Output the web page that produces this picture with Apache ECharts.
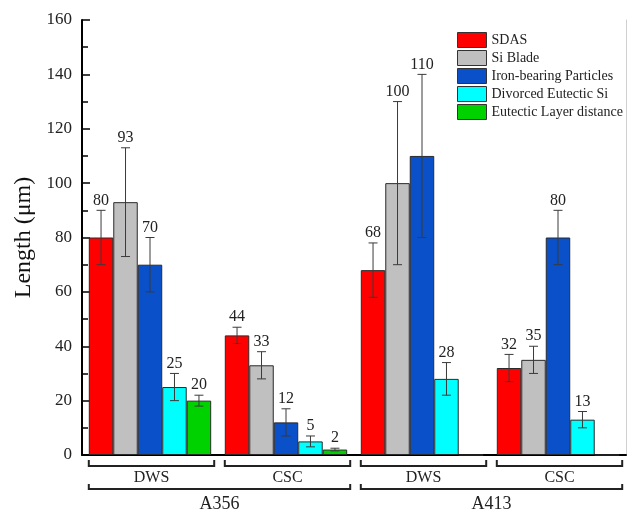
<!DOCTYPE html>
<html>
<head>
<meta charset="utf-8">
<script src="https://cdn.jsdelivr.net/npm/echarts@6/dist/echarts.min.js"></script>
<style>
  html, body { margin: 0; padding: 0; background: #fff; }
  #chart { width: 627px; height: 511px; }
</style>
</head>
<body>
<div id="chart"></div>
<script>
// Casting processes under each alloy, and the alloys that group them
const processes = ['DWS', 'CSC', 'DWS', 'CSC'];
const alloys = ['A356', 'A413'];
const alloyOfCategory = [0, 0, 1, 1];

const seriesNames = ['SDAS', 'Si Blade', 'Iron-bearing Particles', 'Divorced Eutectic Si', 'Eutectic Layer distance'];

// Mean lengths (μm) per category
const sdas      = [80, 44, 68, 32];
const siBlade   = [93, 33, 100, 35];
const ironPart  = [70, 12, 110, 80];
const divorced  = [25, 5, 28, 13];
const eutLayer  = [20, 2, 0, 0];

// Standard deviations (μm)
const sdasErr     = [10, 3, 10, 5];
const siBladeErr  = [20, 5, 30, 5];
const ironPartErr = [10, 5, 30, 10];
const divorcedErr = [5, 2, 6, 3];
const eutLayerErr = [2, 0.5, 0, 0];

const yTicks = [0, 20, 40, 60, 80, 100, 120, 140, 160];

const colors = ['#ff0000', '#c0c0c0', '#0a50c8', '#00ffff', '#00d200'];
const FONT = "'Liberation Serif', 'Times New Roman', serif";

const means = [sdas, siBlade, ironPart, divorced, eutLayer];
const errs = [sdasErr, siBladeErr, ironPartErr, divorcedErr, eutLayerErr];
const nSeries = means.length;
const gapRatio = 0.10;

const catKeys = processes.map((p, i) => alloys[alloyOfCategory[i]] + ' ' + p);

const barSeries = means.map((vals, s) => ({
  name: seriesNames[s],
  type: 'bar',
  data: vals,
  barGap: '0%',
  barCategoryGap: (gapRatio * 100) + '%',
  itemStyle: { color: colors[s], borderColor: '#2a2a2a', borderWidth: 1 },
  z: 2
}));

// Error bars with the mean printed above each one
const errorSeries = means.map((vals, s) => ({
  type: 'custom',
  name: seriesNames[s] + ' error',
  data: vals.map((v, i) => [i, v, errs[s][i]]),
  encode: { x: 0, y: 1 },
  z: 5,
  silent: true,
  renderItem: function (params, api) {
    const i = api.value(0), v = api.value(1), e = api.value(2);
    if (!v) return null;
    const band = api.size([1, 0])[0];
    const bw = band * (1 - gapRatio) / nSeries;
    const cx = api.coord([i, v])[0] + (s - (nSeries - 1) / 2) * bw;
    const yTop = api.coord([i, v + e])[1];
    const yBot = api.coord([i, v - e])[1];
    const cap = 4.5;
    const stroke = { stroke: '#3a3a3a', lineWidth: 1 };
    return {
      type: 'group',
      children: [
        { type: 'line', shape: { x1: cx, y1: yTop, x2: cx, y2: yBot }, style: stroke },
        { type: 'line', shape: { x1: cx - cap, y1: yTop, x2: cx + cap, y2: yTop }, style: stroke },
        { type: 'line', shape: { x1: cx - cap, y1: yBot, x2: cx + cap, y2: yBot }, style: stroke },
        {
          type: 'text',
          style: {
            x: cx, y: yTop - 2, text: String(v),
            align: 'center', verticalAlign: 'bottom',
            font: '16px ' + FONT, fill: '#222'
          }
        }
      ]
    };
  }
}));

const chart = echarts.init(document.getElementById('chart'));

chart.setOption({
  animation: false,
  backgroundColor: '#fff',
  grid: { left: 82, right: 1, top: 20, bottom: 56 },
  legend: {
    orient: 'vertical',
    left: 457, top: 32,
    icon: 'rect',
    itemWidth: 29, itemHeight: 15, itemGap: 2,
    data: seriesNames,
    itemStyle: { borderColor: '#333', borderWidth: 1 },
    textStyle: { fontFamily: FONT, fontSize: 14, lineHeight: 15, color: '#222' },
    padding: 0
  },
  xAxis: [
    {
      type: 'category', data: catKeys, position: 'bottom',
      axisLine: { lineStyle: { color: '#777', width: 1 } },
      axisTick: { show: false }, axisLabel: { show: false }
    },
    {
      type: 'category', data: catKeys, position: 'top',
      axisLine: { lineStyle: { color: '#000', width: 2 } },
      axisTick: { show: false }, axisLabel: { show: false }
    }
  ],
  yAxis: [
    {
      type: 'value', min: yTicks[0], max: yTicks[yTicks.length - 1], interval: 20,
      name: 'Length (μm)', nameLocation: 'middle', nameGap: 45, nameRotate: 90,
      nameTextStyle: { fontFamily: FONT, fontSize: 24, color: '#111' },
      axisLine: { show: true, lineStyle: { color: '#000', width: 2 } },
      axisTick: { show: true, inside: true, length: 8, lineStyle: { color: '#000', width: 1.5 } },
      minorTick: { show: true, splitNumber: 2, length: 6, lineStyle: { color: '#000', width: 1.5 } },
      splitLine: { show: false },
      axisLabel: { fontFamily: FONT, fontSize: 17, color: '#222', margin: 10 }
    },
    {
      type: 'value', min: yTicks[0], max: yTicks[yTicks.length - 1], position: 'right',
      axisLine: { show: true, lineStyle: { color: '#cfcfcf', width: 1 } },
      axisTick: { show: false }, axisLabel: { show: false }, splitLine: { show: false }
    }
  ],
  series: barSeries.concat(errorSeries)
});

// Grouping brackets under the axis: process level, then alloy level
function drawBrackets() {
  const c0 = chart.convertToPixel({ xAxisIndex: 0 }, 0);
  const c1 = chart.convertToPixel({ xAxisIndex: 0 }, 1);
  const band = c1 - c0;
  const half = band * (1 - gapRatio) / 2;
  const lineStyle = { stroke: '#222', lineWidth: 2, fill: null };
  const els = [];
  const y1 = 466, y1Tick = 460, y2 = 489, y2Tick = 484;
  const spans = processes.map((p, i) => {
    const c = chart.convertToPixel({ xAxisIndex: 0 }, i);
    return [c - half, c + half + 3];
  });
  processes.forEach((p, i) => {
    const [a, b] = spans[i];
    els.push({ type: 'polyline', shape: { points: [[a, y1Tick], [a, y1], [b, y1], [b, y1Tick]] }, style: lineStyle });
    els.push({ type: 'text', x: (a + b) / 2, y: 478, style: { text: p, align: 'center', verticalAlign: 'middle', font: '16px ' + FONT, fill: '#222' } });
  });
  alloys.forEach((al, k) => {
    const idx = alloyOfCategory.map((g, i) => g === k ? i : -1).filter(i => i >= 0);
    const a = spans[idx[0]][0], b = spans[idx[idx.length - 1]][1];
    els.push({ type: 'polyline', shape: { points: [[a, y2Tick], [a, y2], [b, y2], [b, y2Tick]] }, style: lineStyle });
    els.push({ type: 'text', x: (a + b) / 2, y: 504, style: { text: al, align: 'center', verticalAlign: 'middle', font: '18px ' + FONT, fill: '#222' } });
  });
  chart.setOption({ graphic: els });
}
drawBrackets();
</script>
</body>
</html>
